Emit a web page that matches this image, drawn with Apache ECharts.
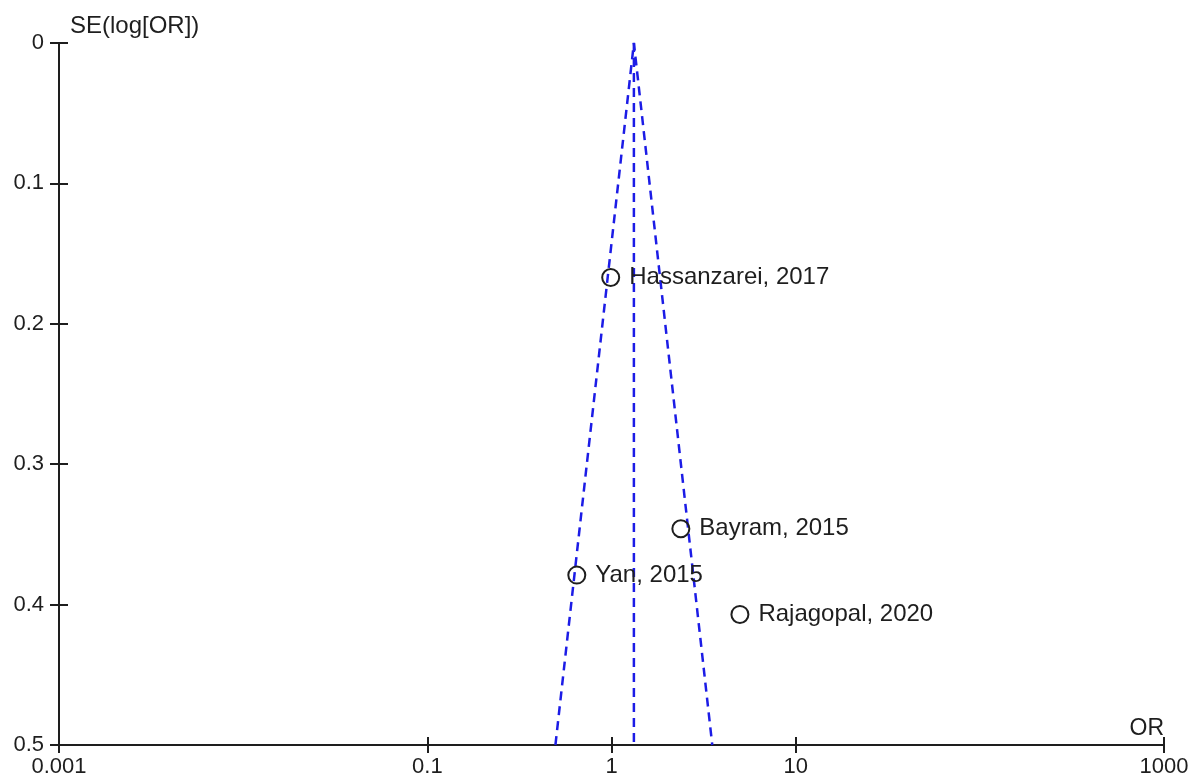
<!DOCTYPE html>
<html>
<head>
<meta charset="utf-8">
<title>Funnel plot</title>
<script src="https://cdn.jsdelivr.net/npm/echarts@6/dist/echarts.min.js"></script>
<style>
  html, body { margin: 0; padding: 0; background: #fff; }
  #funnel { width: 1192px; height: 778px; }
</style>
</head>
<body>
<div id="funnel"></div>
<script>
// studies
var studies = ['Hassanzarei, 2017', 'Bayram, 2015', 'Yan, 2015', 'Rajagopal, 2020'];
var orValues = [0.99, 2.38, 0.648, 4.98];
var seValues = [0.167, 0.346, 0.379, 0.407];

// funnel: apex at pooled OR, limits at SE = 0.5
var funnelOR = [0.496, 1.323, 3.525];
var funnelSE = [0.5, 0, 0.5];
var centerOR = [1.323, 1.323];
var centerSE = [0, 0.5];

var xTicks = [0.001, 0.1, 1, 10, 1000];

var myChart = echarts.init(document.getElementById('funnel'));

var font = 'Liberation Sans';
var ink = '#1e1e1e';
var blue = '#1c1ce6';

function zip(a, b) {
    var out = [];
    for (var i = 0; i < a.length; i++) out.push([a[i], b[i]]);
    return out;
}

var xBase = {
    type: 'log',
    logBase: 10,
    min: 0.001,
    max: 1000,
    position: 'bottom',
    splitLine: { show: false },
    axisLine: { onZero: false }
};
var yBase = {
    type: 'value',
    inverse: true,
    min: 0,
    max: 0.5,
    interval: 0.1,
    position: 'left',
    splitLine: { show: false },
    axisLine: { onZero: false }
};

var option = {
    backgroundColor: '#fff',
    animation: false,
    grid: {
        left: 59,
        right: 28,
        top: 43,
        bottom: 32
    },
    xAxis: [
        echarts.util.merge({
            name: 'OR',
            nameLocation: 'end',
            nameGap: 0,
            nameTextStyle: {
                fontFamily: font, fontSize: 23, color: ink,
                align: 'right', verticalAlign: 'bottom', padding: [0, 0, 5, 0]
            },
            axisLine: { show: true, lineStyle: { color: ink, width: 2 } },
            axisTick: { show: true, length: 8, customValues: xTicks, lineStyle: { color: ink, width: 2 } },
            axisLabel: {
                customValues: xTicks,
                margin: 11,
                fontFamily: font, fontSize: 22, color: ink,
                formatter: function (v) { return String(v); }
            }
        }, xBase, false),
        echarts.util.merge({
            axisLine: { show: false },
            axisTick: { show: true, inside: true, length: 8, customValues: xTicks, lineStyle: { color: ink, width: 2 } },
            axisLabel: { show: false }
        }, xBase, false)
    ],
    yAxis: [
        echarts.util.merge({
            name: 'SE(log[OR])',
            nameLocation: 'start',
            nameGap: 5,
            nameTextStyle: {
                fontFamily: font, fontSize: 24, color: ink,
                align: 'left', verticalAlign: 'bottom', padding: [0, 0, 0, 11]
            },
            axisLine: { show: true, lineStyle: { color: ink, width: 2 } },
            axisTick: { show: true, length: 9, lineStyle: { color: ink, width: 2 } },
            axisLabel: { margin: 15, fontFamily: font, fontSize: 22, color: ink }
        }, yBase, false),
        echarts.util.merge({
            axisLine: { show: false },
            axisTick: { show: true, inside: true, length: 9, lineStyle: { color: ink, width: 2 } },
            axisLabel: { show: false }
        }, yBase, false)
    ],
    series: [
        {
            type: 'line',
            data: zip(funnelOR, funnelSE),
            symbol: 'none',
            lineStyle: { color: blue, width: 2.5, type: [9, 6] },
            z: 2
        },
        {
            type: 'line',
            data: zip(centerOR, centerSE),
            symbol: 'none',
            lineStyle: { color: blue, width: 2.5, type: [9, 6] },
            z: 2
        },
        {
            type: 'scatter',
            data: zip(orValues, seValues).map(function (d, i) {
                return { value: d, name: studies[i] };
            }),
            symbol: 'circle',
            symbolSize: 17,
            itemStyle: { color: 'rgba(0,0,0,0)', borderColor: ink, borderWidth: 2, opacity: 1 },
            label: {
                show: true,
                position: 'right',
                distance: 9,
                formatter: '{b}',
                fontFamily: font,
                fontSize: 24,
                color: ink
            },
            z: 3
        }
    ]
};

myChart.setOption(option);
</script>
</body>
</html>
